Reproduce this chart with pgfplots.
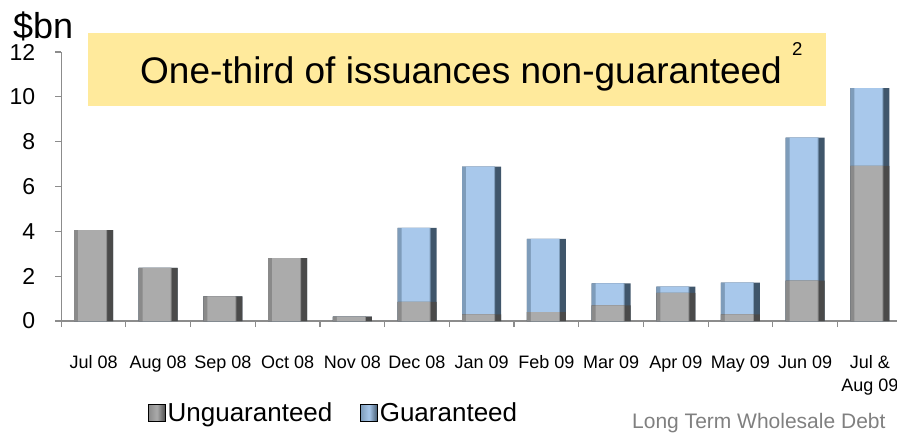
\documentclass[border=0pt]{standalone}
\usepackage{pgfplots}
\usepackage{pgfplotstable}
\pgfplotsset{compat=1.18}
\usepackage{fontspec}
\setmainfont{Liberation Sans}
\definecolor{axisgray}{HTML}{8C8C8C}
\definecolor{boxyellow}{HTML}{FFEA9C}
\definecolor{gmid}{HTML}{ABABAB}
\definecolor{gleft}{HTML}{8A8A8A}
\definecolor{gright}{HTML}{4A4A4A}
\definecolor{bmid}{HTML}{A8C8EB}
\definecolor{bleft}{HTML}{7E9CBA}
\definecolor{bright}{HTML}{40566B}
% u = unguaranteed, g = guaranteed ($bn)
\pgfplotstableread{
x u    g
0 4.05 0
1 2.37 0
2 1.10 0
3 2.80 0
4 0.20 0
5 0.85 3.30
6 0.30 6.59
7 0.40 3.26
8 0.70 0.98
9 1.26 0.27
10 0.30 1.41
11 1.80 6.38
12 6.92 3.47
}\issues
\begin{document}
\begin{tikzpicture}
\begin{axis}[
    at={(32.35pt,0)}, anchor=origin,
    scale only axis,
    width=835.8pt, height=269pt,
    xmin=-0.5, xmax=12.42,
    ymin=0, ymax=12,
    ytick={0,2,...,12},
    xtick={0,...,12},
    xticklabels={Jul 08,Aug 08,Sep 08,Oct 08,Nov 08,Dec 08,Jan 09,Feb 09,Mar 09,Apr 09,May 09,Jun 09,
        {\begin{tabular}[t]{@{}c@{}}Jul \&\\Aug 09\end{tabular}}},
    minor xtick={-0.5,0.5,...,12.5},
    major x tick style={draw=none},
    tick align=outside,
    tick style={axisgray, line width=1.2pt},
    minor tick length=6pt,
    major tick length=6pt,
    axis x line*=bottom,
    axis y line*=left,
    axis line style={axisgray, line width=1.2pt},
    /pgf/number format/assume math mode=true,
    yticklabel style={font=\fontsize{23}{26}\selectfont, anchor=east, xshift=-16.5pt},
    xticklabel style={font=\fontsize{18}{23}\selectfont, anchor=base, yshift=-41pt},
    ybar,
    legend style={at={(rel axis cs:0.326,-0.342)}, anchor=center, draw=none, fill=none,
        font=\fontsize{26}{30}\selectfont, legend columns=-1,
        /tikz/every even column/.append style={column sep=26pt}},
    legend image code/.code={\fill[#1] (0pt,-8pt) rectangle (17pt,9pt);},
]
% guaranteed part: drawn as the full stack, then covered below by the unguaranteed part
\addplot[fill=bright, draw=none, bar width=39pt, bar shift=0pt, forget plot]
    table[x=x, y expr=\thisrow{u}+\thisrow{g}] {\issues};
\addplot[fill=bleft, draw=none, bar width=33pt, bar shift=-3pt, forget plot]
    table[x=x, y expr=\thisrow{u}+\thisrow{g}] {\issues};
\addplot[fill=bmid, draw=none, bar width=28pt, bar shift=-1.5pt, forget plot]
    table[x=x, y expr=\thisrow{u}+\thisrow{g}] {\issues};
% unguaranteed part
\addplot[fill=gright, draw=none, bar width=39pt, bar shift=0pt, forget plot]
    table[x=x, y=u] {\issues};
\addplot[fill=gleft, draw=none, bar width=33pt, bar shift=-3pt, forget plot]
    table[x=x, y=u] {\issues};
\addplot[fill=gmid, draw=none, bar width=28pt, bar shift=-1.5pt, forget plot]
    table[x=x, y=u] {\issues};
\addlegendimage{left color=gleft, right color=gright, middle color=gmid}
\addlegendentry{Unguaranteed}
\addlegendimage{left color=bleft, right color=bright, middle color=bmid}
\addlegendentry{Guaranteed}
\end{axis}
\fill[boxyellow] (26.8pt,215pt) rectangle (764.8pt,288pt);
\node[anchor=base west, inner sep=0pt, font=\fontsize{37}{44}\selectfont] at (78.8pt,237.7pt) {One-third of issuances non-guaranteed};
\node[anchor=base west, inner sep=0pt, font=\fontsize{18.6}{22}\selectfont] at (730.8pt,266pt) {2};
\node[anchor=base west, inner sep=0pt, font=\fontsize{36}{42}\selectfont] at (-48.2pt,283pt) {\$bn};
\node[anchor=base west, inner sep=0pt, text=gray, font=\fontsize{21}{25}\selectfont] at (570.8pt,-107pt) {Long Term Wholesale Debt};
\pgfresetboundingbox
\path[use as bounding box] (-61.2pt,-111pt) rectangle (835.8pt,321pt);
\end{tikzpicture}
\end{document}
